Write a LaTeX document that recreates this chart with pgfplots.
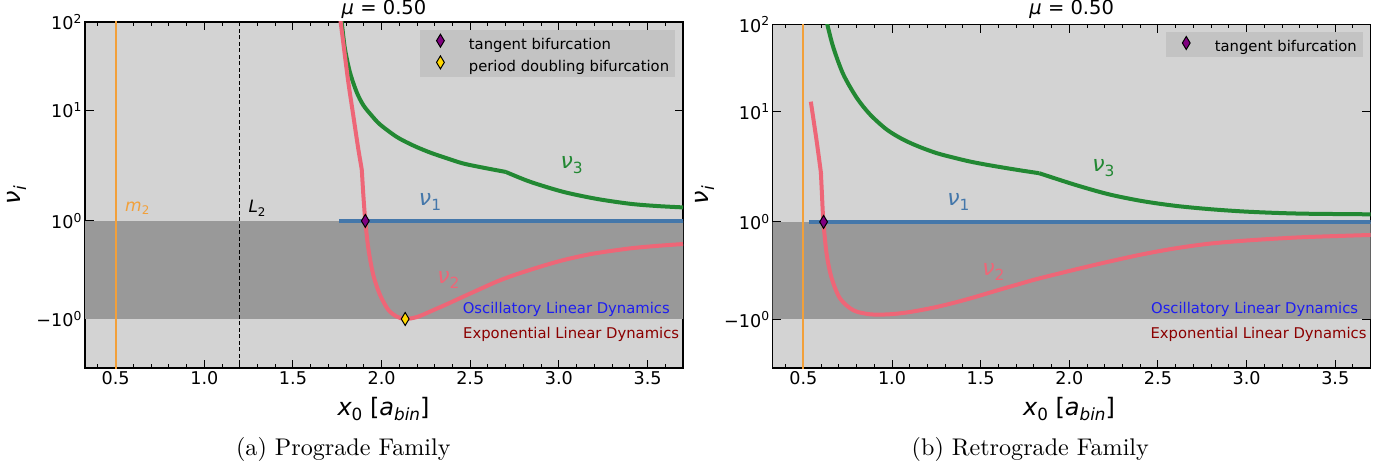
\documentclass[border=0pt]{standalone}
\usepackage{pgfplots}
\pgfplotsset{compat=1.18}
\usepackage{fontspec}
\usepackage{xfp}
\usepackage{graphicx}
\newfontfamily\dv{DejaVu Sans}

\definecolor{tolblue}{HTML}{4477AA}
\definecolor{tolred}{HTML}{EE6677}
\definecolor{tolgreen}{HTML}{228833}
\definecolor{lgray}{HTML}{D3D3D3}
\definecolor{dgray}{HTML}{999999}
\definecolor{leggray}{HTML}{C3C3C3}
\definecolor{morange}{HTML}{F2A03A}
\definecolor{mpurple}{HTML}{800080}
\definecolor{mgold}{HTML}{FFD700}
\definecolor{oscblue}{HTML}{1E1EF0}
\definecolor{expred}{HTML}{8B0000}

\makeatletter
\newcommand\sz[1]{\fontsize{#1}{#1}\selectfont}
\newcommand\subs[1]{\raisebox{-0.22em}{\fontsize{\fpeval{0.7*\f@size}}{1}\selectfont #1}}
\newcommand\sups[1]{\raisebox{0.38em}{\fontsize{\fpeval{0.7*\f@size}}{1}\selectfont #1}}
\makeatother

\pgfplotsset{
  panel/.style={
    y filter/.expression={abs(y)<=2 ? 1.111111*y : (y>0 ? 1 : -1)*2*(1.111111+ln(abs(y)/2+(abs(y)<=2))/2.302585)},
    scale only axis, width=598pt,
    anchor=south west,
    xmin=0.327, xmax=3.70,
    ymin=-2.22222, ymax=5.62019,
    axis background/.style={fill=lgray},
    xtick={0.5,1.0,1.5,2.0,2.5,3.0,3.5},
    xticklabels={0.5,1.0,1.5,2.0,2.5,3.0,3.5},
    minor xtick={0.4,0.5,...,3.7},
    ytick={-1.11111,1.11111,3.62019,5.62019},
    yticklabels={−10\sups{0},10\sups{0},10\sups{1},10\sups{2}},
    minor ytick={0},
    tick align=inside,
    major tick length=8.5pt, minor tick length=4pt,
    every tick/.style={black, line width=1pt},
    axis line style={black, line width=1.2pt},
    tick label style={font=\dv\sz{17.6}},
    legend style={at={(1,1)}, anchor=north east, xshift=-8pt, yshift=-8pt,
      fill=leggray, draw=none, font=\dv\sz{14.8},
      inner xsep=5.7pt, inner ysep=4pt, row sep=5pt, column sep=0pt,
      nodes={inner sep=0pt}},
    legend cell align=left,
    legend image code/.code={\path (0pt,-4pt) (42.6pt,4pt); \draw[##1] plot coordinates {(14.3pt,3.8pt)};},
  },
  pmark/.style={only marks, mark=diamond*, mark size=6.5pt,
    mark options={fill=mpurple, draw=black, line width=1pt, xscale=0.8}},
  gmark/.style={only marks, mark=diamond*, mark size=6.5pt,
    mark options={fill=mgold, draw=black, line width=1pt, xscale=0.8}},
}

\begin{document}
\begin{tikzpicture}
\useasboundingbox (0,0) rectangle (1399pt,467pt);

% ---------------- panel (a) ----------------
\begin{axis}[panel, at={(85pt,99pt)}, height=346pt]
\addplot[draw=none, fill=dgray, forget plot] coordinates {(0,-1) (4,-1) (4,1) (0,1)} -- cycle;
\addplot[morange, line width=2pt, forget plot] coordinates {(0.5,-5) (0.5,500)};
\addplot[black, line width=1.2pt, dash pattern=on 4pt off 2.5pt, forget plot] coordinates {(1.2,-5) (1.2,500)};
\addplot[tolblue, line width=3.5pt, forget plot] coordinates {(1.761,1) (3.8,1)};
% nu3
\addplot[tolgreen, line width=4pt, smooth, forget plot] coordinates {
 (1.765,130) (1.775,98) (1.793,49.9) (1.821,27.1) (1.859,16.1) (1.897,11.4)
 (1.944,8.7) (1.991,6.9) (2.085,4.99) (2.179,3.98) (2.273,3.32) (2.367,2.86) (2.461,2.49) (2.58,2.22) (2.70,2.0)};
\addplot[tolgreen, line width=4pt, smooth, forget plot] coordinates {
 (2.70,2.0) (2.837,1.80) (3.024,1.594) (3.213,1.450) (3.401,1.350) (3.55,1.305) (3.70,1.276)};
% nu2
\addplot[tolred, line width=4pt, smooth, forget plot] coordinates {
 (1.762,130) (1.769,100) (1.788,49.9) (1.812,20.9) (1.840,8.78) (1.868,3.69) (1.887,2.19) (1.889,2.0)};
\addplot[tolred, line width=4pt, smooth, forget plot] coordinates {
 (1.889,2.0) (1.897,1.527) (1.908,1.0) (1.925,0.442) (1.953,-0.102) (1.991,-0.509)
 (2.038,-0.814) (2.085,-0.95) (2.133,-1.0) (2.20,-0.96) (2.273,-0.849) (2.367,-0.70) (2.461,-0.544)
 (2.555,-0.39) (2.649,-0.238) (2.743,-0.11) (2.837,0.001) (2.93,0.105) (3.024,0.200) (3.12,0.28) (3.213,0.345) (3.401,0.440) (3.55,0.49) (3.70,0.529)};
\addplot[pmark] coordinates {(1.908,1)};
\addlegendentry{tangent bifurcation}
\addplot[gmark] coordinates {(2.133,-1)};
\addlegendentry{period doubling bifurcation}
\end{axis}

% ---------------- panel (b) ----------------
\begin{axis}[panel, at={(772.7pt,99pt)}, height=343.7pt]
\addplot[draw=none, fill=dgray, forget plot] coordinates {(0,-1) (4,-1) (4,1) (0,1)} -- cycle;
\addplot[color=morange, line width=1.8pt, forget plot] coordinates {(0.5,-5) (0.5,500)};
\addplot[tolblue, line width=3.5pt, forget plot] coordinates {(0.534,1) (3.8,1)};
% nu3
\addplot[tolgreen, line width=4pt, smooth, forget plot] coordinates {
 (0.628,130) (0.635,100) (0.669,54.4) (0.725,26.9) (0.801,14.5) (0.876,9.36)
 (0.970,6.30) (1.063,4.84) (1.157,3.98) (1.252,3.39) (1.345,3.02) (1.439,2.72)
 (1.533,2.50) (1.627,2.32) (1.721,2.16) (1.83,2.0)};
\addplot[tolgreen, line width=4pt, smooth, forget plot] coordinates {
 (1.83,2.0) (2.031,1.764) (2.218,1.571) (2.406,1.431) (2.594,1.332) (2.782,1.265)
 (2.969,1.217) (3.157,1.186) (3.345,1.168) (3.70,1.156)};
% nu2
\addplot[tolred, line width=4pt, smooth, forget plot] coordinates {
 (0.542,13.1) (0.575,4.63) (0.598,2.10) (0.599,2.0)};
\addplot[tolred, line width=4pt, smooth, forget plot] coordinates {
 (0.599,2.0) (0.604,1.625) (0.613,1.0) (0.632,0.32) (0.660,-0.161) (0.707,-0.573)
 (0.782,-0.815) (0.876,-0.897) (0.970,-0.90) (1.063,-0.870) (1.157,-0.815) (1.252,-0.746)
 (1.345,-0.665) (1.439,-0.573) (1.533,-0.472) (1.627,-0.370) (1.721,-0.272) (1.815,-0.175)
 (2.031,0.02) (2.218,0.18) (2.406,0.33) (2.594,0.455) (2.782,0.55) (2.969,0.61) (3.157,0.655)
 (3.345,0.69) (3.70,0.732)};
\addplot[pmark] coordinates {(0.614,1)};
\addlegendentry{tangent bifurcation}
\end{axis}

% ---------------- texts ----------------
\begin{scope}[every node/.style={inner sep=0pt}]
% panel a
\node[anchor=base, font=\dv\sz{19.5}] at (384pt,452pt) {{\itshape μ} = 0.50};
\node[anchor=base, font=\dv\sz{24}] at (383.5pt,52pt) {{\itshape x}\subs{0} [{\itshape a}\subs{\itshape bin}]};
\node[rotate=90, font=\dv\sz{24}] at (17pt,272pt) {{\itshape ν}\subs{\itshape i}};
\node[anchor=base] at (343.3pt,12pt) {\scalebox{2.41}{\rmfamily\fontsize{10}{12}\selectfont (a) Prograde Family}};
\node[morange, anchor=west, font=\dv\sz{17}] at (125pt,258.7pt) {{\itshape m}\subs{2}};
\node[black, anchor=west, font=\dv\sz{17}] at (248.3pt,258.7pt) {{\itshape L}\subs{2}};
\node[tolblue, font=\dv\sz{22}] at (430pt,265.3pt) {{\itshape ν}\subs{1}};
\node[tolred, font=\dv\sz{22}] at (448.3pt,187pt) {{\itshape ν}\subs{2}};
\node[tolgreen, font=\dv\sz{22}] at (571.7pt,302pt) {{\itshape ν}\subs{3}};
\node[oscblue, anchor=east, font=\dv\sz{14.8}] at (670pt,158pt) {Oscillatory Linear Dynamics};
\node[expred, anchor=east, font=\dv\sz{14.8}] at (679.3pt,133pt) {Exponential Linear Dynamics};
% panel b
\node[anchor=base, font=\dv\sz{19.5}] at (1071.7pt,452pt) {{\itshape μ} = 0.50};
\node[anchor=base, font=\dv\sz{24}] at (1069pt,52pt) {{\itshape x}\subs{0} [{\itshape a}\subs{\itshape bin}]};
\node[rotate=90, font=\dv\sz{24}] at (705pt,272pt) {{\itshape ν}\subs{\itshape i}};
\node[anchor=base] at (1030.3pt,12pt) {\scalebox{2.41}{\rmfamily\fontsize{10}{12}\selectfont (b) Retrograde Family}};
\node[tolblue, font=\dv\sz{22}] at (958.3pt,265.3pt) {{\itshape ν}\subs{1}};
\node[tolred, font=\dv\sz{22}] at (993.3pt,195.3pt) {{\itshape ν}\subs{2}};
\node[tolgreen, font=\dv\sz{22}] at (1103.3pt,298.7pt) {{\itshape ν}\subs{3}};
\node[oscblue, anchor=east, font=\dv\sz{14.8}] at (1358.3pt,157.7pt) {Oscillatory Linear Dynamics};
\node[expred, anchor=east, font=\dv\sz{14.8}] at (1366.7pt,133pt) {Exponential Linear Dynamics};
\end{scope}
\end{tikzpicture}
\end{document}
